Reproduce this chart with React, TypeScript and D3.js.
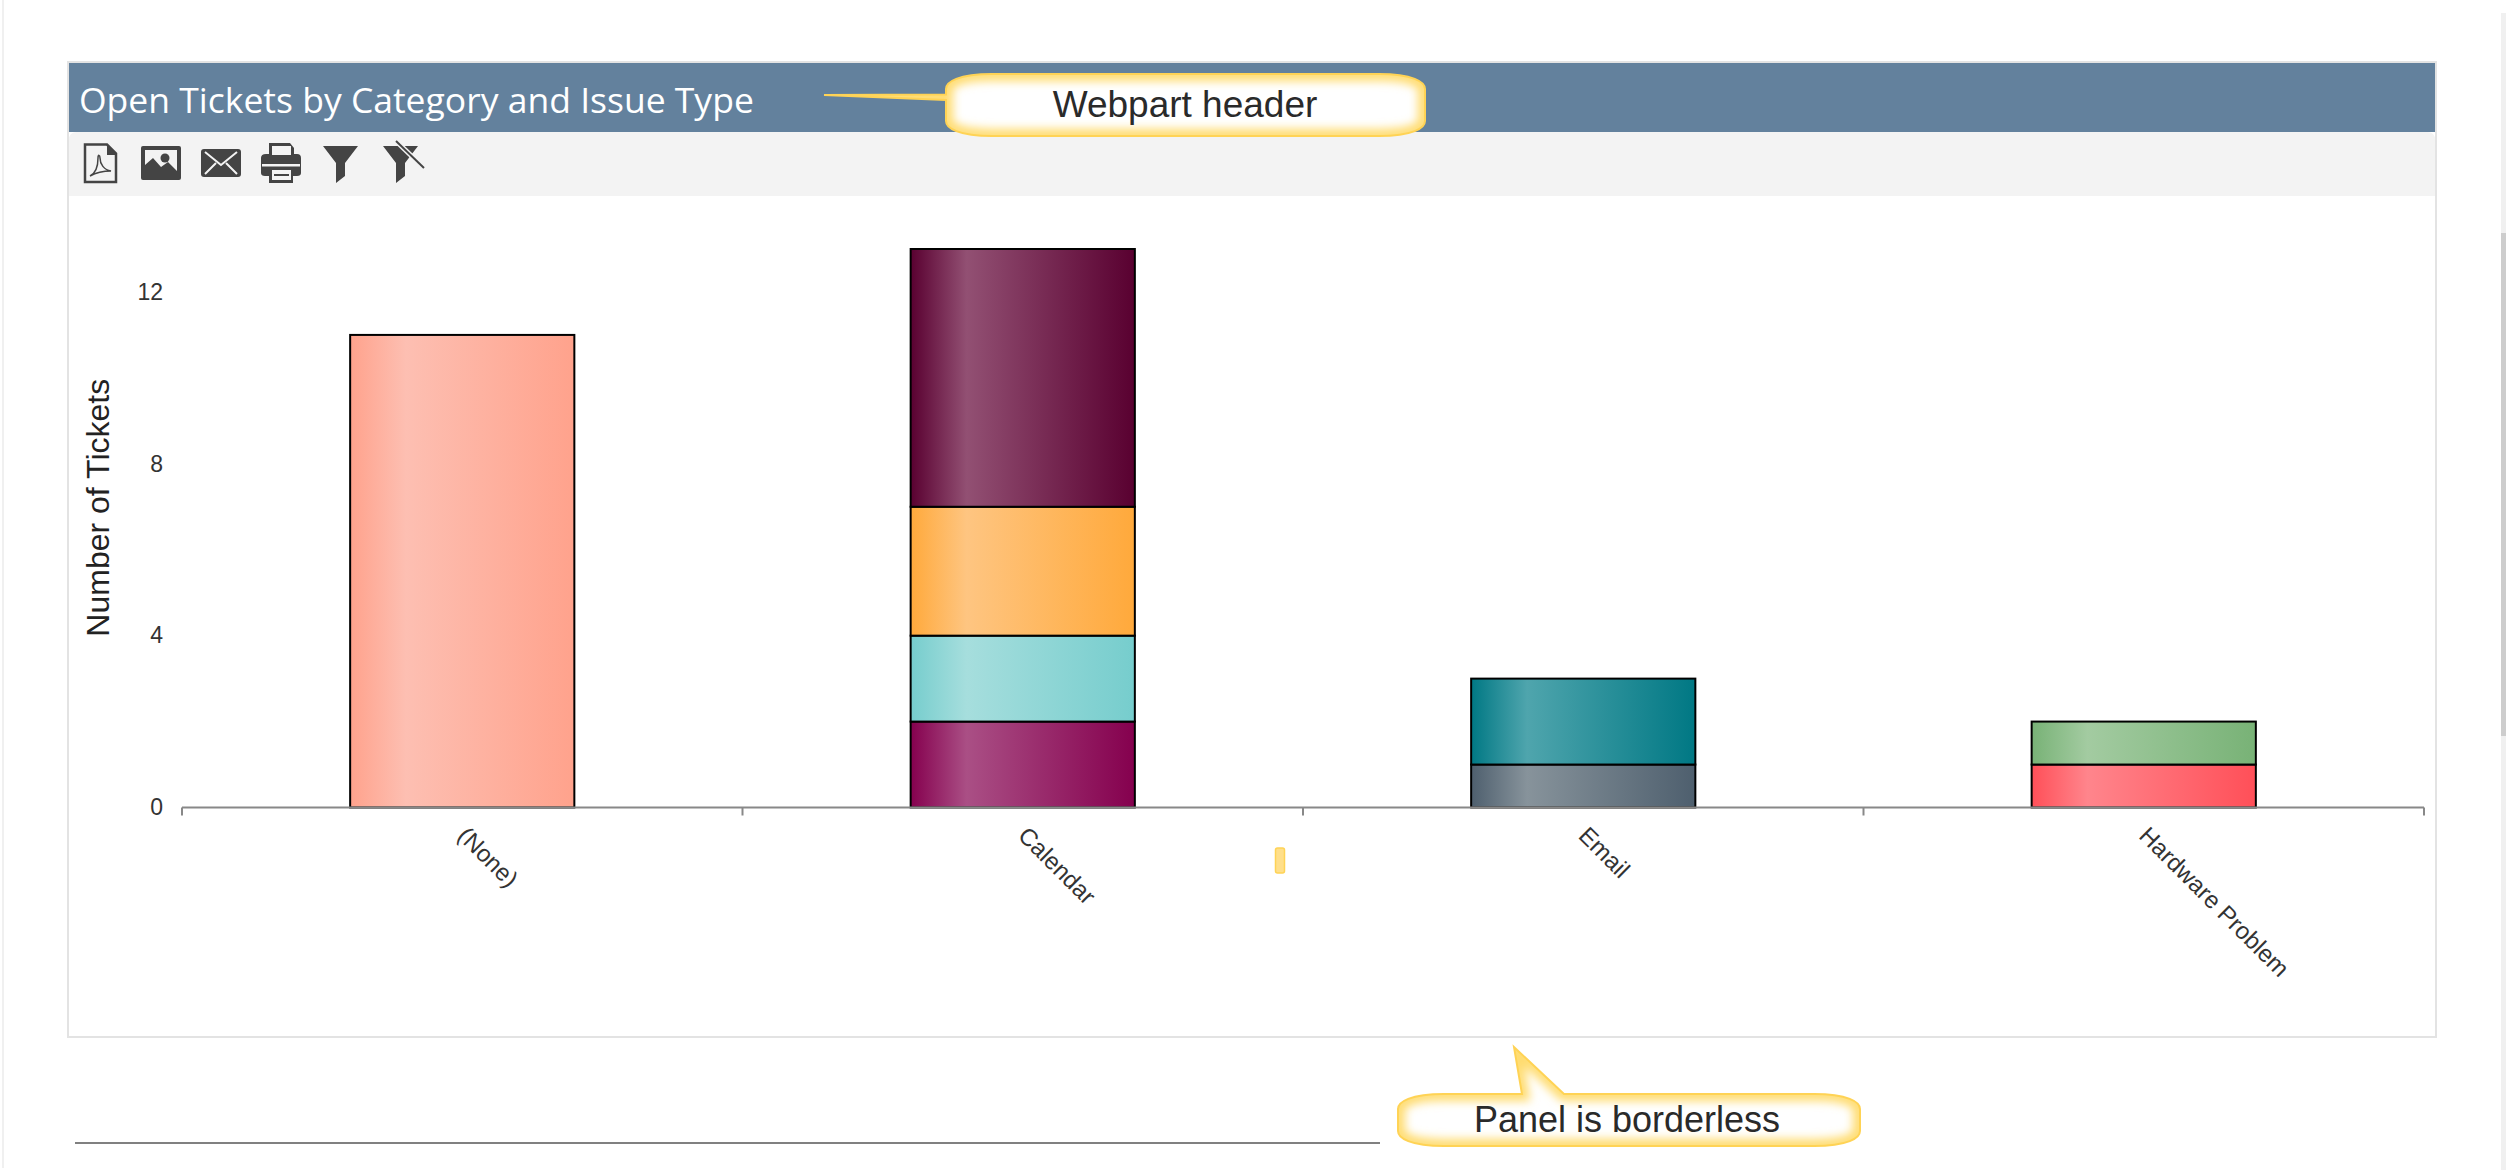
import * as d3 from "d3";
import React from "react";

const categories = ["(None)", "Calendar", "Email", "Hardware Problem"];
const yTicks = [0, 4, 8, 12];

// tickets per issue type, bottom of the stack first
const noneTickets = [11, 0, 0, 0];
const calendarA = [0, 2, 0, 0];
const calendarB = [0, 2, 0, 0];
const calendarC = [0, 3, 0, 0];
const calendarD = [0, 6, 0, 0];
const emailA = [0, 0, 1, 0];
const emailB = [0, 0, 2, 0];
const hardwareA = [0, 0, 0, 1];
const hardwareB = [0, 0, 0, 1];

const seriesKeys = ["none", "calA", "calB", "calC", "calD", "emA", "emB", "hwA", "hwB"];
const seriesValues = [noneTickets, calendarA, calendarB, calendarC, calendarD, emailA, emailB, hardwareA, hardwareB];
// [edge colour, highlight colour] for the bar shading
const seriesColors = [
	["#ffa28c", "#fdbfb2"],
	["#85004e", "#aa4f85"],
	["#76cdcd", "#a6dedd"],
	["#ffa93b", "#fec581"],
	["#590030", "#925073"],
	["#4e5f6e", "#87939b"],
	["#007884", "#4fa5ad"],
	["#ff4f58", "#ff858c"],
	["#78b276", "#a3cba1"],
];

const W = 2506;
const H = 1170;
const margin = { left: 182, right: 2424, top: 249, bottom: 807.5 };
const chartFont = "'Liberation Sans', Arial, sans-serif";

const xScale = d3
	.scaleBand<string>()
	.domain(categories)
	.range([margin.left, margin.right])
	.paddingInner(0.6)
	.paddingOuter(0.3);
const yScale = d3.scaleLinear().domain([0, 13]).range([margin.bottom, margin.top]);

const tableRows = categories.map((c, i) => {
	const row: Record<string, number | string> = { category: c };
	seriesKeys.forEach((k, j) => (row[k] = seriesValues[j][i]));
	return row;
});
const stacked = d3.stack<any>().keys(seriesKeys)(tableRows);

// rounded box with bulging corners, optional tail going off one edge
function calloutPath(
	x0: number,
	y0: number,
	x1: number,
	y1: number,
	tail: { side: "left" | "top"; a: number; b: number; tipX: number; tipY: number },
) {
	const p = d3.path();
	const rx = 46;
	const ry = 15;
	p.moveTo(x0 + rx, y0);
	if (tail.side === "top") {
		p.lineTo(tail.a, y0);
		p.lineTo(tail.tipX, tail.tipY);
		p.lineTo(tail.b, y0);
	}
	p.lineTo(x1 - rx, y0);
	p.bezierCurveTo(x1 - 12, y0, x1, y0 + 8, x1, y0 + ry);
	p.lineTo(x1, y1 - ry);
	p.bezierCurveTo(x1, y1 - 8, x1 - 12, y1, x1 - rx, y1);
	p.lineTo(x0 + rx, y1);
	p.bezierCurveTo(x0 + 12, y1, x0, y1 - 8, x0, y1 - ry);
	if (tail.side === "left") {
		p.lineTo(x0, tail.b);
		p.lineTo(tail.tipX, tail.tipY);
		p.lineTo(x0, tail.a);
	}
	p.lineTo(x0, y0 + ry);
	p.bezierCurveTo(x0, y0 + 8, x0 + 12, y0, x0 + rx, y0);
	p.closePath();
	return p.toString();
}

const Callout: React.FC<{ id: string; d: string; label: string; x: number; y: number; size: number }> = ({
	id,
	d,
	label,
	x,
	y,
	size,
}) => (
	<g>
		<clipPath id={id}>
			<path d={d} />
		</clipPath>
		<path d={d} fill="#fff" />
		<path d={d} fill="none" stroke="#ffdc70" strokeWidth={14} filter="url(#soft)" clipPath={`url(#${id})`} />
		<path d={d} fill="none" stroke="#ffd355" strokeWidth={2} />
		<text x={x} y={y} textAnchor="middle" fontFamily={chartFont} fontSize={size} fill="#2a2a2a">
			{label}
		</text>
	</g>
);

const Toolbar = () => {
	const ink = "#444";
	return (
		<g fill={ink}>
			{/* pdf */}
			<path d="M85 144.5h22l9 9v28.500h-31z" fill="none" stroke={ink} strokeWidth={2.5} />
			<path d="M107 144v11h10z" />
			<path d="M90 176c6-3 8-10 8-18 0-4 2-3 2 0 0 6 4 12 11 13-5 0-12 0-21 5z" fill="none" stroke={ink} strokeWidth={1.5} />
			{/* image */}
			<rect x={141} y={146} width={40} height={34} rx={2} />
			<path d="M145 150h32v21l-9-9-7 5-8-9-8 7z" fill="#f3f3f3" />
			<circle cx={165} cy={158} r={4.5} />
			{/* mail */}
			<rect x={201} y={149} width={40} height={28} rx={3} />
			<path d="M205 152l16 13 16-13M205 174l11-11M237 174l-11-11" fill="none" stroke="#f3f3f3" strokeWidth={2} />
			{/* printer */}
			<path d="M261 158q0-4 5-4h3v-11h21l4 5v6h3q4 0 4 4v15q0 3-4 3h-4v7h-24v-7h-4q-4 0-4-3v-15z" />
			<rect x={272} y={146} width={19} height={9} fill="#f3f3f3" />
			<rect x={262} y={164} width={38} height={2.5} fill="#f3f3f3" />
			<rect x={272} y={170} width={19} height={10} fill="#f3f3f3" />
			<rect x={274} y={174} width={15} height={2} />
			{/* filter */}
			<path d="M323 146h35l-13 17v13l-9 7v-20z" />
			{/* clear filter */}
			<path d="M383 146h35l-13 17v13l-9 7v-20z" />
			<path d="M396 141l28 27" stroke="#f3f3f3" strokeWidth={5} />
			<path d="M396 141l28 27" stroke={ink} strokeWidth={2} />
		</g>
	);
};

export default function App() {
	const bandwidth = xScale.bandwidth();
	return (
		<svg width={W} height={H} style={{ position: "absolute", left: 0, top: 0, display: "block", background: "#fff" }}>
			<defs>
				<filter id="soft" x="-10%" y="-40%" width="120%" height="180%">
					<feGaussianBlur stdDeviation={5} />
				</filter>
				{seriesColors.map(([edge, light], i) => (
					<linearGradient key={i} id={`bar${i}`} x1="0" x2="1" y1="0" y2="0">
						<stop offset="0" stopColor={edge} />
						<stop offset="0.25" stopColor={light} />
						<stop offset="1" stopColor={edge} />
					</linearGradient>
				))}
			</defs>

			{/* page scroll strips */}
			<rect x={2} y={0} width={2} height={1168} fill="#f0f0f0" />
			<rect x={2501} y={13} width={5} height={H - 13} fill="#f0f0f0" />
			<rect x={2501} y={233} width={5} height={503} fill="#cdcdcd" />

			{/* panel */}
			<rect x={68} y={62} width={2368} height={975} fill="#fff" stroke="#e3e3e3" strokeWidth={2} />
			<rect x={69} y={63} width={2366} height={69} fill="#63819d" />
			<path d="M69 196V140q0-8 8-8H2427q8 0 8 8V196z" fill="#f3f3f3" />
			<text x={79} y={113} fontFamily="'Open Sans', sans-serif" fontSize={35.5} fill="#fff">
				Open Tickets by Category and Issue Type
			</text>
			<Toolbar />

			{/* bars */}
			{stacked.map((layer, i) =>
				layer.map((seg, j) =>
					seg[1] - seg[0] > 0 ? (
						<rect
							key={`${i}-${j}`}
							x={xScale(categories[j])}
							y={yScale(seg[1])}
							width={bandwidth}
							height={yScale(seg[0]) - yScale(seg[1])}
							fill={`url(#bar${i})`}
							stroke="#000"
							strokeWidth={2}
						/>
					) : null,
				),
			)}

			{/* y axis labels */}
			{yTicks.map((t) => (
				<text
					key={t}
					x={163}
					y={yScale(t)}
					dy="0.34em"
					textAnchor="end"
					fontFamily={chartFont}
					fontSize={23}
					fill="#333">
					{t}
				</text>
			))}
			<text
				transform={`translate(109, ${(yScale(0) + yScale(12)) / 2 - 42}) rotate(-90)`}
				textAnchor="middle"
				fontFamily={chartFont}
				fontSize={32}
				fill="#222">
				Number of Tickets
			</text>

			{/* x axis */}
			<line x1={margin.left} x2={margin.right} y1={margin.bottom} y2={margin.bottom} stroke="#888" strokeWidth={2} />
			{d3.range(categories.length + 1).map((i) => {
				const tx = margin.left + i * xScale.step();
				return <line key={i} x1={tx} x2={tx} y1={margin.bottom} y2={margin.bottom + 8} stroke="#888" strokeWidth={2} />;
			})}
			{categories.map((c) => (
				<text
					key={c}
					transform={`translate(${(xScale(c) || 0) + bandwidth / 2 - 6}, 837) rotate(45)`}
					fontFamily={chartFont}
					fontSize={24}
					fill="#333">
					{c}
				</text>
			))}

			{/* annotations pasted on the screenshot */}
			<Callout
				id="c1"
				d={calloutPath(946, 74, 1425, 136, { side: "left", a: 94.5, b: 100, tipX: 824, tipY: 95 })}
				label="Webpart header"
				x={1185}
				y={117}
				size={37}
			/>
			<Callout
				id="c2"
				d={calloutPath(1398, 1094, 1860, 1146, { side: "top", a: 1522, b: 1564, tipX: 1514, tipY: 1047 })}
				label="Panel is borderless"
				x={1627}
				y={1132}
				size={36}
			/>
			<rect x={1275.5} y={848} width={9} height={25} rx={2} fill="#ffdf8a" stroke="#ffd355" strokeWidth={1.5} />
			<line x1={75} x2={1380} y1={1143} y2={1143} stroke="#808080" strokeWidth={2} />
		</svg>
	);
}
